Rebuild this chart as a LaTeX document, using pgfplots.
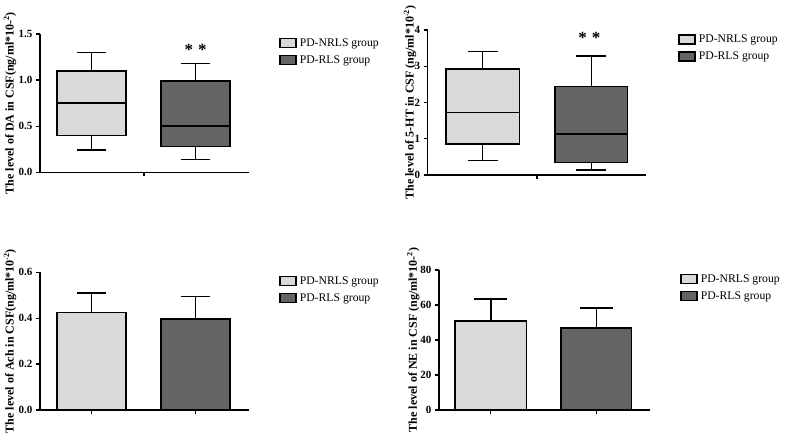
\documentclass[border=0pt]{standalone}
\usepackage{fontspec}
\setmainfont{Liberation Serif}
\usepackage{pgfplots}
\pgfplotsset{compat=1.18}
\usepgfplotslibrary{statistics}
\definecolor{lightfill}{HTML}{D9D9D9}
\definecolor{darkfill}{HTML}{646464}
\pgfplotsset{
  panel/.style={
    scale only axis, clip=false,
    axis x line*=bottom, axis y line*=left,
    axis line style={-, line width=1.2pt, black},
    tick style={black, line width=1.2pt},
    major tick length=4pt, tick align=outside,
    xmin=0, ymin=0, xticklabels={},
    ticklabel style={font=\bfseries\fontsize{11}{12}\selectfont},
    /pgf/number format/assume math mode=true,
    legend cell align=left,
    legend style={draw=none, fill=none, anchor=west, inner sep=0pt, row sep=5pt,
      font=\fontsize{11.7}{13}\selectfont,
      /tikz/every odd column/.style={column sep=2pt},
      nodes={inner sep=1pt, text height=8pt, text depth=2pt}},
    legend image code/.code={\draw[##1] (0pt,-4.5pt) rectangle (16pt,4.5pt);},
    every axis y label/.style={anchor=center, rotate=90,
      font=\bfseries\fontsize{12}{13}\selectfont},
  },
  bx/.style={draw=black, line width=1.6pt},
  eb/.style={error bars/.cd, y dir=plus, y explicit, error mark=|,
    error bar style={line width=1.6pt, black},
    error mark options={black, line width=1.6pt, mark size=#1}},
}
\newcommand{\stars}{\node[font=\bfseries\fontsize{17}{17}\selectfont]}
\begin{document}
\begin{tikzpicture}
\useasboundingbox (0,0) rectangle (787pt,435pt);
% ---------- Panel 1: DA ----------
\begin{axis}[panel, at={(40pt,262.7pt)}, anchor=south west,
  width=209pt, height=138.3pt, xmax=2.09, ymax=1.5,
  xtick={1.04}, ytick={0,0.5,1,1.5},
  yticklabel style={/pgf/number format/.cd, fixed, fixed zerofill, precision=1},
  ylabel={The level of DA in CSF(ng/ml*10-\textsuperscript{2})},
  ylabel style={at={(axis description cs:-0.1435,0.5)}},
  legend style={at={(axis description cs:1.1435,0.872)}}]
\addplot[bx, fill=lightfill, forget plot, boxplot prepared={draw direction=y, lower whisker=0.24, lower quartile=0.40, median=0.75, upper quartile=1.10, upper whisker=1.30, draw position=0.515, box extend=0.69, whisker extend=0.29}] coordinates {};
\addplot[bx, fill=darkfill, forget plot, boxplot prepared={draw direction=y, lower whisker=0.14, lower quartile=0.28, median=0.50, upper quartile=0.99, upper whisker=1.18, draw position=1.555, box extend=0.69, whisker extend=0.29}] coordinates {};
\addlegendimage{bx, fill=lightfill}\addlegendentry{PD-NRLS group}
\addlegendimage{bx, fill=darkfill}\addlegendentry{PD-RLS group}
\stars at (axis cs:1.555,1.33) {*\hspace{5pt}*};
\end{axis}
% ---------- Panel 2: 5-HT ----------
\begin{axis}[panel, at={(427.7pt,260pt)}, anchor=south west,
  width=218.3pt, height=145pt, xmax=2.183, ymax=4,
  xtick={1.093}, ytick={0,1,2,3,4},
  ylabel={The level of 5-HT in  CSF (ng/ml*10\textsuperscript{-2})},
  ylabel style={at={(axis description cs:-0.0811,0.5)}},
  legend style={at={(axis description cs:1.1466,0.874)}}]
\addplot[bx, fill=lightfill, forget plot, boxplot prepared={draw direction=y, lower whisker=0.40, lower quartile=0.85, median=1.72, upper quartile=2.93, upper whisker=3.41, draw position=0.548, box extend=0.736, whisker extend=0.30}] coordinates {};
\addplot[bx, fill=darkfill, forget plot, boxplot prepared={draw direction=y, lower whisker=0.14, lower quartile=0.34, median=1.13, upper quartile=2.44, upper whisker=3.28, draw position=1.636, box extend=0.727, whisker extend=0.30}] coordinates {};
\addlegendimage{bx, fill=lightfill}\addlegendentry{PD-NRLS group}
\addlegendimage{bx, fill=darkfill}\addlegendentry{PD-RLS group}
\stars at (axis cs:1.616,3.78) {*\hspace{5pt}*};
\end{axis}
% ---------- Panel 3: Ach ----------
\begin{axis}[panel, at={(40pt,25pt)}, anchor=south west,
  width=209pt, height=137.7pt, xmax=2.09, ymax=0.6,
  xtick={0.515,1.555}, ytick={0,0.2,0.4,0.6},
  yticklabel style={/pgf/number format/.cd, fixed, fixed zerofill, precision=1},
  ylabel={The level of Ach in CSF(ng/ml*10\textsuperscript{-2})},
  ylabel style={at={(axis description cs:-0.1435,0.5)}},
  legend style={at={(axis description cs:1.1435,0.875)}}]
\addplot[ybar, bar shift=0pt, bar width=69pt, bx, fill=lightfill, forget plot, eb=14.5pt]
  coordinates {(0.515,0.425) +- (0,0.085)};
\addplot[ybar, bar shift=0pt, bar width=69pt, bx, fill=darkfill, forget plot, eb=14.5pt]
  coordinates {(1.555,0.396) +- (0,0.099)};
\addlegendimage{bx, fill=lightfill}\addlegendentry{PD-NRLS group}
\addlegendimage{bx, fill=darkfill}\addlegendentry{PD-RLS group}
\end{axis}
% ---------- Panel 4: NE ----------
\begin{axis}[panel, at={(439pt,25pt)}, anchor=south west,
  width=211pt, height=140pt, xmax=2.11, ymax=80,
  xtick={0.518,1.573}, ytick={0,20,40,60,80},
  ylabel={The level of NE in CSF (ng/ml*10-\textsuperscript{2})},
  ylabel style={at={(axis description cs:-0.1218,0.5)}},
  legend style={at={(axis description cs:1.142,0.874)}}]
\addplot[ybar, bar shift=0pt, bar width=71.5pt, bx, fill=lightfill, forget plot, eb=16.5pt]
  coordinates {(0.518,51) +- (0,12.4)};
\addplot[ybar, bar shift=0pt, bar width=70.5pt, bx, fill=darkfill, forget plot, eb=16.5pt]
  coordinates {(1.573,47) +- (0,11.3)};
\addlegendimage{bx, fill=lightfill}\addlegendentry{PD-NRLS group}
\addlegendimage{bx, fill=darkfill}\addlegendentry{PD-RLS group}
\end{axis}
\end{tikzpicture}
\end{document}
